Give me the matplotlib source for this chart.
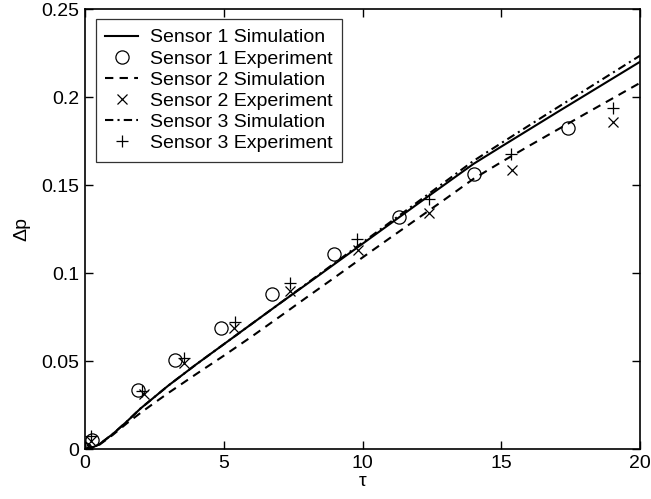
import matplotlib
matplotlib.use("Agg")
import matplotlib.pyplot as plt
import numpy as np

plt.rcParams['font.family'] = ['Liberation Sans', 'DejaVu Sans']

# simulated pressure rise
tau_sim = [0, 0.25, 0.5, 1, 1.5, 2, 2.5, 3, 4, 5, 6, 7, 8, 9, 10,
           11, 12, 13, 14, 15, 16, 17, 18, 19, 20]
sim1 = [0, 0.0008, 0.0025, 0.0085, 0.0155, 0.023, 0.0295, 0.036, 0.048, 0.0595,
        0.0710, 0.0825, 0.0938, 0.1052, 0.1166, 0.1280, 0.1394, 0.1507,
        0.1620, 0.1718, 0.1815, 0.1912, 0.2008, 0.2104, 0.2200]
sim2 = [0, 0.0008, 0.0022, 0.008, 0.0145, 0.0205, 0.0262, 0.0318, 0.0425, 0.053,
        0.0638, 0.0750, 0.0863, 0.0975, 0.1088, 0.1200, 0.1311, 0.1422,
        0.1535, 0.1630, 0.1722, 0.1812, 0.1902, 0.1991, 0.2080]
sim3 = [0, 0.0008, 0.0025, 0.0085, 0.0155, 0.023, 0.0295, 0.036, 0.048, 0.0595,
        0.0710, 0.0825, 0.0941, 0.1057, 0.1173, 0.1289, 0.1405, 0.1521,
        0.1637, 0.1738, 0.1838, 0.1938, 0.2037, 0.2136, 0.2235]

# measured values
tau_exp1 = [0, 0.24, 1.92, 3.26, 4.89, 6.74, 8.98, 11.33, 14.03, 17.39]
exp1 = [0, 0.005, 0.0335, 0.0506, 0.0686, 0.088, 0.1106, 0.132, 0.156, 0.1822]
tau_exp2 = [0, 0.22, 2.13, 3.56, 5.36, 7.39, 9.82, 12.41, 15.37, 19.04]
exp2 = [0, 0.0047, 0.031, 0.049, 0.0686, 0.090, 0.113, 0.134, 0.1585, 0.186]
tau_exp3 = [0, 0.22, 2.05, 3.58, 5.40, 7.40, 9.80, 12.41, 15.35, 19.04]
exp3 = [0, 0.0074, 0.033, 0.0515, 0.0723, 0.0945, 0.1192, 0.1419, 0.1676, 0.1936]

fig = plt.figure(figsize=(6.51, 4.99), dpi=100)
ax = fig.add_axes([85/651, 1-449/499, 555/651, 440/499])

lw = 1.5
ax.plot(tau_sim, sim1, 'k-', lw=lw, label='Sensor 1 Simulation')
ax.plot(tau_exp1, exp1, 'ko', mfc='none', ms=9.5, mew=0.9, ls='none',
        label='Sensor 1 Experiment')
ax.plot(tau_sim, sim2, 'k--', lw=lw, dashes=(4, 3), label='Sensor 2 Simulation')
ax.plot(tau_exp2, exp2, 'kx', ms=7, mew=0.9, ls='none',
        label='Sensor 2 Experiment')
ax.plot(tau_sim, sim3, 'k-.', lw=lw, dashes=(4, 2, 1, 2), label='Sensor 3 Simulation')
ax.plot(tau_exp3, exp3, 'k+', ms=9, mew=0.9, ls='none',
        label='Sensor 3 Experiment')

ax.set_xlim(0, 20)
ax.set_ylim(0, 0.25)
ax.set_xticks([0, 5, 10, 15, 20])
ax.set_xticklabels(['0', '5', '10', '15', '20'])
ax.set_yticks([0, 0.05, 0.1, 0.15, 0.2, 0.25])
ax.set_yticklabels(['0', '0.05', '0.1', '0.15', '0.2', '0.25'])
ax.tick_params(direction='in', length=6, width=1.0, labelsize=14,
               top=True, right=True, pad=4)
for s in ax.spines.values():
    s.set_linewidth(1.2)

ax.set_xlabel('τ', fontsize=14, labelpad=1)
ax.set_ylabel('Δp', fontsize=14, labelpad=8)

leg = ax.legend(loc='upper left', bbox_to_anchor=(0.019, 0.977), fontsize=14,
                frameon=True, fancybox=False, edgecolor='black',
                handlelength=1.7, handletextpad=0.6, borderpad=0.5,
                labelspacing=0.18, borderaxespad=0)
leg.get_frame().set_linewidth(0.9)

fig.savefig('out.png', dpi=100)
